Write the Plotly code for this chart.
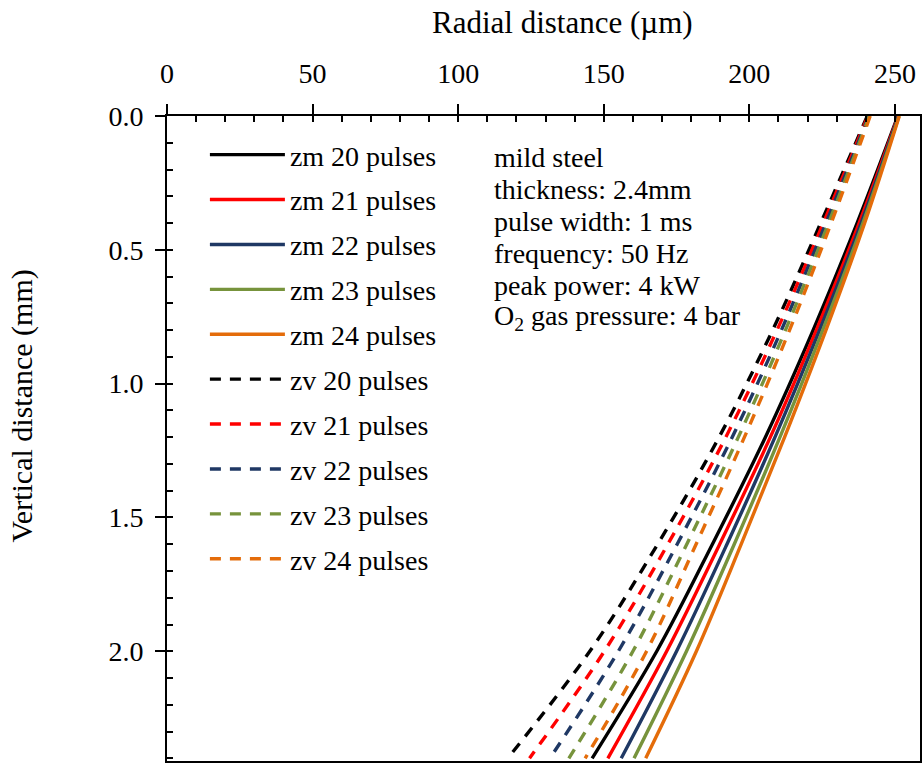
import plotly.graph_objects as go

# Vertical positions (mm) at which each profile radius was sampled
depth = [0.0, 0.4, 0.8, 1.2, 1.6, 2.0, 2.4]

# zm profiles: radial distance (µm) for 20..24 pulses
zm_20 = [251.0, 237.0, 221.9, 205.5, 187.3, 168.2, 146.0]
zm_21 = [251.1, 237.7, 223.0, 207.2, 189.8, 171.6, 151.4]
zm_22 = [251.2, 238.4, 224.1, 208.8, 192.3, 175.0, 156.0]
zm_23 = [251.4, 239.0, 225.2, 210.5, 194.8, 178.4, 160.4]
zm_24 = [251.5, 239.6, 226.3, 212.1, 197.2, 181.8, 164.4]

# zv profiles: radial distance (µm) for 20..24 pulses
zv_20 = [240.5, 224.5, 208.0, 189.6, 168.5, 145.2, 117.0]
zv_21 = [240.7, 225.4, 209.5, 191.9, 172.0, 150.2, 124.5]
zv_22 = [241.0, 226.3, 211.0, 194.1, 175.2, 155.0, 131.5]
zv_23 = [241.2, 227.2, 212.4, 196.2, 178.5, 160.0, 138.0]
zv_24 = [241.5, 228.1, 213.8, 198.3, 181.7, 164.7, 143.6]

pulses = [20, 21, 22, 23, 24]
colors = ["#000000", "#FF0000", "#1F3864", "#77933C", "#E46C0A"]

info_lines = [
    "mild steel",
    "thickness: 2.4mm",
    "pulse width: 1 ms",
    "frequency: 50 Hz",
    "peak power: 4 kW",
    "O<sub>2</sub> gas pressure: 4 bar",
]

FONT = "Liberation Serif, Times New Roman, serif"
X_RANGE = [0, 258.6]
Y_RANGE = [2.41, 0]

fig = go.Figure()

zm_series = [zm_20, zm_21, zm_22, zm_23, zm_24]
zv_series = [zv_20, zv_21, zv_22, zv_23, zv_24]

for i, (n, c, r) in enumerate(zip(pulses, colors, zm_series)):
    fig.add_trace(go.Scatter(
        x=r, y=depth, mode="lines", name=f"zm {n} pulses",
        legendgroup=f"g{i}", line=dict(color=c, width=3.4, shape="spline"),
    ))
for i, (n, c, r) in enumerate(zip(pulses, colors, zv_series)):
    fig.add_trace(go.Scatter(
        x=r, y=depth, mode="lines", name=f"zv {n} pulses",
        legendgroup=f"g{i+5}", line=dict(color=c, width=3.4, dash="11px,9px", shape="spline"),
    ))

# Parameter block
for k, t in enumerate(info_lines):
    py = 158 + 32 * k
    fig.add_annotation(
        text=t, xref="paper", yref="paper", x=(493 - 167) / 755, y=(763 - py) / 647,
        xanchor="left", yanchor="middle", showarrow=False,
        font=dict(family=FONT, size=28, color="black"),
    )

# Axis titles
fig.add_annotation(
    text="Radial distance (\u00b5m)", xref="paper", yref="paper",
    x=(564 - 167) / 755, y=(763 - 22) / 647, xanchor="center", yanchor="middle",
    showarrow=False, font=dict(family=FONT, size=31, color="black"),
)
fig.add_annotation(
    text="Vertical distance (mm)", xref="paper", yref="paper", textangle=-90,
    x=(22 - 167) / 755, y=(763 - 407) / 647, xanchor="center", yanchor="middle",
    showarrow=False, font=dict(family=FONT, size=30, color="black"),
)

major_axis = dict(
    showline=True, linecolor="black", linewidth=2, mirror=True,
    ticks="outside", ticklen=10, tickwidth=1.6, tickcolor="black",
    showgrid=False, zeroline=False,
    tickfont=dict(family=FONT, size=28, color="black"),
)
minor_axis = dict(
    showline=False, ticks="inside", ticklen=6, tickwidth=1.6, tickcolor="black",
    showgrid=False, zeroline=False, showticklabels=False,
)

fig.update_layout(
    width=924, height=765,
    margin=dict(l=167, r=2, t=116, b=2),
    paper_bgcolor="white", plot_bgcolor="white",
    font=dict(family=FONT, color="black"),
    xaxis=dict(major_axis, side="top", range=X_RANGE, tick0=0, dtick=50,
               ticklabelstandoff=10),
    yaxis=dict(major_axis, range=Y_RANGE, tick0=0, dtick=0.5, tickformat=".1f",
               ticklabelstandoff=6),
    xaxis2=dict(minor_axis, overlaying="x", side="top", range=X_RANGE, tick0=0, dtick=10),
    yaxis2=dict(minor_axis, overlaying="y", side="left", range=Y_RANGE, tick0=0, dtick=0.1),
    showlegend=True,
    legend=dict(
        x=(205 - 167) / 755, y=(763 - 130) / 647, xanchor="left", yanchor="top",
        bgcolor="rgba(0,0,0,0)", borderwidth=0,
        font=dict(family=FONT, size=28, color="black"),
        itemwidth=75, tracegroupgap=5.5,
    ),
)

# Invisible carrier trace so the minor-tick axes are drawn
fig.add_trace(go.Scatter(x=[None], y=[None], xaxis="x2", yaxis="y2",
                         showlegend=False, hoverinfo="skip"))

fig.write_html("out.html")
